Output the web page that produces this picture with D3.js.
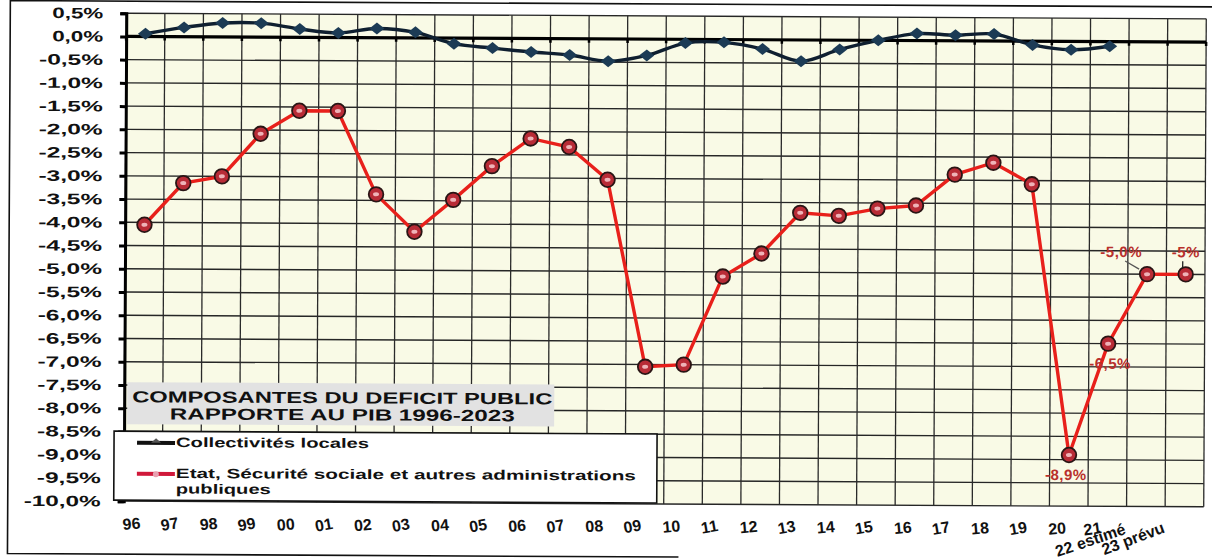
<!DOCTYPE html>
<html><head><meta charset="utf-8">
<script src="https://cdn.jsdelivr.net/npm/d3@7"></script>
<style>
body{margin:0;background:#fff;}
svg{display:block;font-family:"Liberation Sans",Arial,sans-serif;}
</style></head><body>
<svg id="c" width="1212" height="560"></svg>
<script>
// ---- data ----
const categories = ["96","97","98","99","00","01","02","03","04","05","06","07","08","09","10","11","12","13","14","15","16","17","18","19","20","21","22 estimé","23 prévu"];
const collectivitesLocales = [0.06,0.2,0.3,0.3,0.18,0.1,0.2,0.12,-0.12,-0.21,-0.29,-0.35,-0.48,-0.35,-0.08,-0.06,-0.2,-0.46,-0.2,0.0,0.15,0.12,0.15,-0.08,-0.18,-0.1,null,null];
const etatSecuAPU = [-4.05,-3.15,-3.0,-2.08,-1.58,-1.58,-3.37,-4.17,-3.48,-2.75,-2.15,-2.33,-3.03,-7.05,-7.0,-5.1,-4.6,-3.72,-3.78,-3.62,-3.55,-2.88,-2.62,-3.08,-8.9,-6.5,-5.0,-5.0];
const yTickValues = [0.5,0,-0.5,-1,-1.5,-2,-2.5,-3,-3.5,-4,-4.5,-5,-5.5,-6,-6.5,-7,-7.5,-8,-8.5,-9,-9.5,-10];
const labelCategories = ["20","21","22 estimé","23 prévu"];
const labelTexts = ["-8,9%","-6,5%","-5,0%","-5%"];
const titleLines = ["COMPOSANTES DU DEFICIT PUBLIC","RAPPORTE AU PIB 1996-2023"];
const legendNames = ["Collectivités locales","Etat, Sécurité sociale et autres administrations","publiques"];

// ---- scales ----
const x = d3.scaleBand().domain(categories).range([125,1205]).padding(0);
const y = d3.scaleLinear().domain([-10,0.5]).range([504,16]);
const cx = c => x(c) + x.bandwidth()/2;
const fmt = v => d3.format(".1f")(v).replace("−","-").replace(".",",") + "%";

const svg = d3.select("#c");
const root = svg.append("g").attr("transform","rotate(0.3,665,260)");

// outer frame
root.append("path").attr("d","M1211,4 L9,4 L9,557 L680,557")
  .attr("fill","none").attr("stroke","#111").attr("stroke-width",1.6);

// plot background
root.append("rect").attr("x",125).attr("y",y(0.5)).attr("width",1080).attr("height",y(-10)-y(0.5))
  .attr("fill","#f9fae6");

// horizontal grid
root.append("g").selectAll("line").data(yTickValues).join("line")
  .attr("x1",125).attr("x2",1205).attr("y1",d=>y(d)).attr("y2",d=>y(d))
  .attr("stroke","#262626").attr("stroke-width",1.4);
// vertical grid at category boundaries
const bounds = categories.map(c=>x(c)).concat([x.range()[1]]);
root.append("g").selectAll("line").data(bounds).join("line")
  .attr("x1",d=>d).attr("x2",d=>d).attr("y1",y(0.5)).attr("y2",y(-10))
  .attr("stroke","#2a2a2a").attr("stroke-width",1.3);

// y axis
const yAxis = root.append("g").attr("transform","translate(125,0)")
  .call(d3.axisLeft(y).tickValues(yTickValues).tickFormat(fmt).tickSize(6).tickPadding(17));
yAxis.select(".domain").attr("stroke","#000").attr("stroke-width",3);
yAxis.selectAll(".tick line").attr("stroke","#000").attr("stroke-width",3);
yAxis.selectAll(".tick text").attr("font-size",15).attr("font-weight","bold").attr("fill","#111")
  .attr("font-family","'Liberation Sans',Arial,sans-serif")
  .attr("textLength",function(){return this.textContent.length*13-1;}).attr("lengthAdjust","spacingAndGlyphs");

// zero line
root.append("line").attr("x1",125).attr("x2",1205).attr("y1",y(0)).attr("y2",y(0))
  .attr("stroke","#000").attr("stroke-width",3.2);
root.append("g").selectAll("line").data(bounds).join("line")
  .attr("x1",d=>d).attr("x2",d=>d).attr("y1",y(0)).attr("y2",y(0)+4)
  .attr("stroke","#000").attr("stroke-width",2.5);

// x axis labels
const xAxis = root.append("g").attr("transform",`translate(0,${y(-10)})`)
  .call(d3.axisBottom(x).tickSize(0).tickPadding(0));
xAxis.select(".domain").remove();
xAxis.selectAll(".tick text")
  .attr("font-size",16).attr("font-weight","bold").attr("fill","#111")
  .attr("font-family","'Liberation Sans',Arial,sans-serif")
  .attr("dy",null).attr("y",null)
  .each(function(d,i){
    const t = d3.select(this);
    if (d === "22 estimé") {
      t.attr("text-anchor","start").attr("transform","translate(-88,51) rotate(-19)");
    } else if (d === "23 prévu") {
      t.attr("text-anchor","start").attr("transform","translate(-80,49) rotate(-21)");
    } else if (d === "21") {
      t.attr("text-anchor","middle").attr("transform","translate(-14,28) rotate(-8)");
    } else {
      t.attr("text-anchor","middle").attr("transform",`translate(-11,28) rotate(${i%2?-10:-5})`);
    }
  });

// Collectivités locales series
const blueData = categories.map((c,i)=>({c,v:collectivitesLocales[i]})).filter(d=>d.v!==null);
root.append("path").datum(blueData)
  .attr("d",d3.line().x(d=>cx(d.c)).y(d=>y(d.v)).curve(d3.curveCatmullRom.alpha(0.5)))
  .attr("fill","none").attr("stroke","#0f1f30").attr("stroke-width",3.4);
root.append("g").selectAll("path").data(blueData).join("path")
  .attr("d",d=>{const px=cx(d.c),py=y(d.v);return `M${px-7.5},${py} L${px},${py-6} L${px+7.5},${py} L${px},${py+6}Z`;})
  .attr("fill","#1c3b55");

// Etat series
const redData = categories.map((c,i)=>({c,v:etatSecuAPU[i]}));
root.append("path").datum(redData)
  .attr("d",d3.line().x(d=>cx(d.c)).y(d=>y(d.v)))
  .attr("fill","none").attr("stroke","#e8201b").attr("stroke-width",3.4);
const rm = root.append("g").selectAll("g").data(redData).join("g")
  .attr("transform",d=>`translate(${cx(d.c)},${y(d.v)})`);
rm.append("circle").attr("r",7.3).attr("fill","#b82b36").attr("stroke","#2a1515").attr("stroke-width",1.8);
rm.append("ellipse").attr("rx",3).attr("ry",2).attr("fill","#efb3b8");

// data labels
const labOff = {"20":[-3,25],"21":[2,25],"22 estimé":[-26,-17],"23 prévu":[0,-17]};
labelCategories.forEach((c,i)=>{
  const v = etatSecuAPU[categories.indexOf(c)];
  const o = labOff[c];
  root.append("text").attr("x",cx(c)+o[0]).attr("y",y(v)+o[1])
    .attr("text-anchor","middle").attr("font-size",15).attr("font-weight","bold")
    .attr("fill","#b8302c").attr("letter-spacing",0.5).text(labelTexts[i]);
});
// leader lines
{
  const p22 = [cx("22 estimé"), y(etatSecuAPU[26])];
  const p23 = [cx("23 prévu"), y(etatSecuAPU[27])];
  root.append("path").attr("d",`M${p22[0]-22},${p22[1]-13} L${p22[0]-8},${p22[1]-5}`)
    .attr("stroke","#555").attr("stroke-width",1.3).attr("fill","none");
  root.append("path").attr("d",`M${p23[0]-3},${p23[1]-13} L${p23[0]-3},${p23[1]-6}`)
    .attr("stroke","#222").attr("stroke-width",1.3).attr("fill","none");
}

// title box
root.append("rect").attr("x",128).attr("y",385).attr("width",427).attr("height",42).attr("fill","#e2e2e2");
root.append("text").attr("x",343).attr("y",405).attr("text-anchor","middle")
  .attr("font-size",16).attr("font-weight","bold").attr("fill","#111")
  .attr("textLength",420).attr("lengthAdjust","spacingAndGlyphs").text(titleLines[0]);
root.append("text").attr("x",343).attr("y",422).attr("text-anchor","middle")
  .attr("font-size",16).attr("font-weight","bold").attr("fill","#111")
  .attr("textLength",345).attr("lengthAdjust","spacingAndGlyphs").text(titleLines[1]);

// legend box
root.append("rect").attr("x",115).attr("y",434).attr("width",543).attr("height",69)
  .attr("fill","#fff").attr("stroke","#111").attr("stroke-width",1.6);
root.append("line").attr("x1",138).attr("x2",176).attr("y1",445.5).attr("y2",445.5)
  .attr("stroke","#111").attr("stroke-width",4);
root.append("path").attr("d","M152,445.5 L157,441 L162,445.5 Z").attr("fill","#555");
root.append("line").attr("x1",138).attr("x2",176).attr("y1",476.5).attr("y2",476.5)
  .attr("stroke","#d0183a").attr("stroke-width",4);
root.append("circle").attr("cx",157).attr("cy",477).attr("r",3).attr("fill","#e8a0b0");
const legTxt = [[449.5,193],[480.5,460],[496,95]];
legendNames.forEach((n,i)=>{
  root.append("text").attr("x",177).attr("y",legTxt[i][0])
    .attr("font-size",13.5).attr("font-weight","bold").attr("fill","#111")
    .attr("textLength",legTxt[i][1]).attr("lengthAdjust","spacingAndGlyphs").text(n);
});
</script>
</body></html>
